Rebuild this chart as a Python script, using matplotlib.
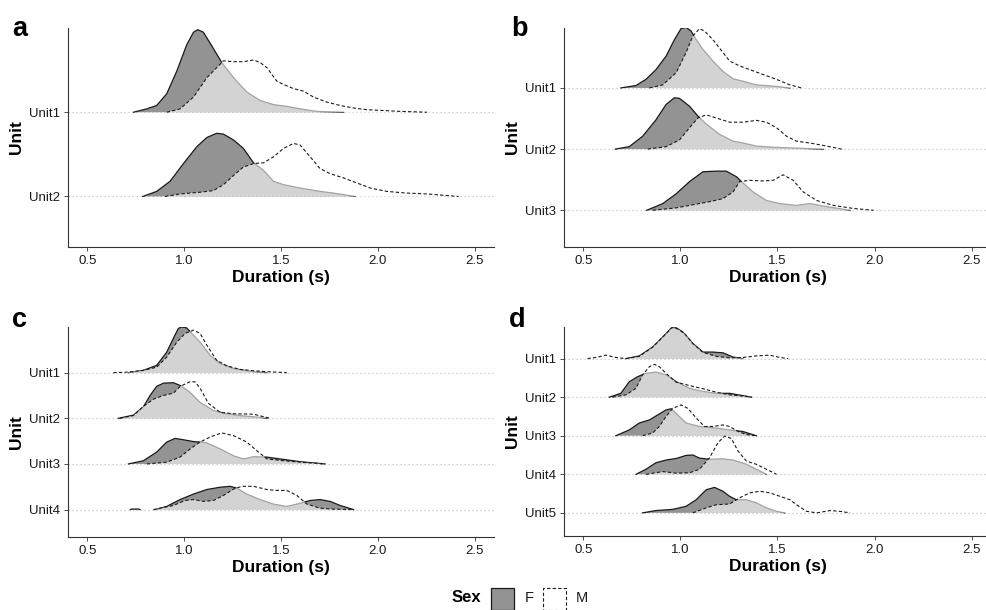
import matplotlib
matplotlib.use("Agg")
import matplotlib.pyplot as plt
import numpy as np
from matplotlib.patches import Rectangle

plt.rcParams['font.family'] = ['Liberation Sans', 'DejaVu Sans']

nan = np.nan

# ---- panel a ----
a_units = ['Unit1', 'Unit2']
a1_f = [(0.738, 0.0), (0.807, 0.04), (0.858, 0.08), (0.910, 0.22), (0.962, 0.49), (1.013, 0.80),
        (1.048, 0.95), (1.070, 0.98), (1.099, 0.95), (1.134, 0.82), (1.168, 0.69), (1.194, 0.59),
        (1.255, 0.41), (1.323, 0.24), (1.392, 0.14), (1.461, 0.09), (1.530, 0.07), (1.599, 0.04),
        (1.685, 0.01), (1.823, 0.0)]
a1_m = [(0.910, 0.0), (0.979, 0.04), (1.048, 0.18), (1.117, 0.41), (1.168, 0.53), (1.203, 0.61),
        (1.255, 0.60), (1.306, 0.60), (1.358, 0.62), (1.392, 0.59), (1.427, 0.53), (1.478, 0.37),
        (1.513, 0.33), (1.565, 0.28), (1.616, 0.25), (1.668, 0.18), (1.737, 0.12), (1.806, 0.08),
        (1.875, 0.05), (1.944, 0.03), (2.030, 0.02), (2.116, 0.01), (2.254, 0.0)]
a2_f = [(0.786, 0.0), (0.858, 0.06), (0.927, 0.18), (0.996, 0.39), (1.065, 0.59), (1.117, 0.70),
        (1.168, 0.75), (1.203, 0.74), (1.255, 0.67), (1.306, 0.57), (1.358, 0.40), (1.410, 0.31),
        (1.461, 0.18), (1.513, 0.14), (1.599, 0.10), (1.702, 0.06), (1.771, 0.04), (1.883, 0.0)]
a2_m = [(0.901, 0.0), (0.979, 0.03), (1.082, 0.05), (1.151, 0.07), (1.203, 0.14), (1.255, 0.25),
        (1.306, 0.35), (1.358, 0.39), (1.410, 0.40), (1.461, 0.47), (1.513, 0.57), (1.565, 0.63),
        (1.599, 0.61), (1.651, 0.47), (1.702, 0.33), (1.754, 0.27), (1.823, 0.22), (1.892, 0.16),
        (1.961, 0.10), (2.047, 0.06), (2.150, 0.04), (2.254, 0.03), (2.417, 0.0)]

# ---- panel b ----
b_units = ['Unit1', 'Unit2', 'Unit3']
b1_f = [(0.693, 0.0), (0.771, 0.04), (0.822, 0.14), (0.874, 0.30), (0.926, 0.52), (0.969, 0.79),
        (1.003, 0.97), (1.029, 0.99), (1.055, 0.93), (1.081, 0.79), (1.116, 0.63), (1.167, 0.44),
        (1.219, 0.27), (1.271, 0.15), (1.322, 0.11), (1.391, 0.05), (1.478, 0.03), (1.564, 0.0)]
b1_m = [(0.840, 0.0), (0.909, 0.05), (0.978, 0.25), (1.029, 0.58), (1.064, 0.85), (1.098, 0.97),
        (1.124, 0.93), (1.167, 0.79), (1.219, 0.58), (1.253, 0.44), (1.305, 0.36), (1.374, 0.28),
        (1.443, 0.20), (1.495, 0.14), (1.564, 0.05), (1.624, 0.0)]
b2_f = [(0.664, 0.0), (0.736, 0.04), (0.805, 0.21), (0.874, 0.48), (0.926, 0.73), (0.969, 0.84),
        (0.995, 0.83), (1.047, 0.70), (1.090, 0.54), (1.133, 0.41), (1.202, 0.24), (1.271, 0.13),
        (1.322, 0.10), (1.391, 0.05), (1.478, 0.03), (1.564, 0.02), (1.736, 0.0)]
b2_m = [(0.831, 0.0), (0.926, 0.04), (0.995, 0.15), (1.047, 0.35), (1.090, 0.51), (1.133, 0.56),
        (1.184, 0.51), (1.253, 0.44), (1.322, 0.44), (1.391, 0.47), (1.443, 0.44), (1.495, 0.35),
        (1.547, 0.21), (1.598, 0.13), (1.667, 0.10), (1.736, 0.06), (1.831, 0.0)]
b3_f = [(0.826, 0.0), (0.909, 0.11), (0.978, 0.27), (1.047, 0.47), (1.116, 0.63), (1.184, 0.64),
        (1.236, 0.64), (1.288, 0.55), (1.314, 0.47), (1.374, 0.30), (1.443, 0.16), (1.512, 0.11),
        (1.598, 0.08), (1.667, 0.11), (1.736, 0.07), (1.874, 0.0)]
b3_m = [(0.857, 0.0), (0.978, 0.04), (1.081, 0.10), (1.150, 0.14), (1.219, 0.19), (1.271, 0.30),
        (1.305, 0.47), (1.357, 0.49), (1.426, 0.48), (1.478, 0.49), (1.529, 0.58), (1.581, 0.49),
        (1.633, 0.30), (1.702, 0.16), (1.788, 0.08), (1.891, 0.03), (1.995, 0.0)]

# ---- panel c ----
c_units = ['Unit1', 'Unit2', 'Unit3', 'Unit4']
c1_f = [(0.712, 0.0), (0.789, 0.05), (0.858, 0.16), (0.910, 0.45), (0.944, 0.75), (0.970, 0.97),
        (0.988, 1.0), (1.013, 0.98), (1.039, 0.86), (1.082, 0.67), (1.134, 0.38), (1.186, 0.20),
        (1.254, 0.09), (1.341, 0.03), (1.427, 0.0)]
c1_m = [(0.634, 0.0), (0.703, 0.01), (0.789, 0.05), (0.858, 0.12), (0.910, 0.34), (0.962, 0.67),
        (1.005, 0.86), (1.048, 0.93), (1.082, 0.86), (1.117, 0.60), (1.168, 0.27), (1.220, 0.15),
        (1.289, 0.07), (1.392, 0.03), (1.530, 0.0)]
c2_f = [(0.660, 0.0), (0.738, 0.07), (0.789, 0.25), (0.824, 0.50), (0.858, 0.70), (0.893, 0.77),
        (0.944, 0.78), (0.979, 0.72), (1.030, 0.57), (1.082, 0.35), (1.151, 0.17), (1.220, 0.10),
        (1.289, 0.06), (1.392, 0.02), (1.427, 0.0)]
c2_m = [(0.669, 0.0), (0.738, 0.06), (0.789, 0.26), (0.841, 0.42), (0.893, 0.50), (0.944, 0.55),
        (0.979, 0.70), (1.030, 0.80), (1.056, 0.80), (1.082, 0.66), (1.125, 0.33), (1.186, 0.13),
        (1.254, 0.10), (1.358, 0.09), (1.444, 0.0)]
c3_f = [(0.712, 0.0), (0.789, 0.07), (0.858, 0.26), (0.910, 0.48), (0.953, 0.56), (0.996, 0.53),
        (1.048, 0.49), (1.082, 0.48), (1.117, 0.46), (1.186, 0.33), (1.254, 0.18), (1.306, 0.11),
        (1.358, 0.16), (1.427, 0.15), (1.513, 0.10), (1.599, 0.05), (1.728, 0.0)]
c3_m = [(0.807, 0.0), (0.910, 0.04), (0.979, 0.15), (1.031, 0.33), (1.082, 0.48), (1.134, 0.59),
        (1.194, 0.68), (1.255, 0.62), (1.323, 0.48), (1.375, 0.29), (1.427, 0.11), (1.513, 0.07),
        (1.599, 0.04), (1.728, 0.0)]
c4_f = [(0.722, 0.0), (0.730, 0.012), (0.765, 0.012), (0.772, 0.0), (0.780, nan),
        (0.850, 0.0), (0.910, 0.07), (0.979, 0.22), (1.048, 0.34), (1.117, 0.44), (1.186, 0.49),
        (1.237, 0.51), (1.272, 0.47), (1.323, 0.34), (1.392, 0.22), (1.461, 0.12), (1.530, 0.07),
        (1.582, 0.12), (1.651, 0.20), (1.702, 0.22), (1.754, 0.18), (1.806, 0.09), (1.875, 0.0)]
c4_m = [(0.841, 0.0), (0.944, 0.09), (1.005, 0.20), (1.048, 0.22), (1.099, 0.18), (1.151, 0.20),
        (1.203, 0.31), (1.255, 0.45), (1.298, 0.51), (1.358, 0.51), (1.427, 0.44), (1.478, 0.42),
        (1.530, 0.42), (1.582, 0.31), (1.634, 0.12), (1.702, 0.03), (1.771, 0.01), (1.875, 0.0)]

# ---- panel d ----
d_units = ['Unit1', 'Unit2', 'Unit3', 'Unit4', 'Unit5']
d1_f = [(0.719, 0.0), (0.788, 0.07), (0.857, 0.30), (0.909, 0.56), (0.952, 0.79), (0.978, 0.80),
        (1.012, 0.69), (1.064, 0.39), (1.116, 0.17), (1.167, 0.17), (1.219, 0.15), (1.271, 0.04),
        (1.322, 0.0)]
d1_m = [(0.521, 0.0), (0.564, 0.03), (0.616, 0.09), (0.667, 0.03), (0.719, 0.0), (0.788, 0.06),
        (0.857, 0.30), (0.909, 0.56), (0.957, 0.81), (0.986, 0.77), (1.021, 0.65), (1.064, 0.39),
        (1.116, 0.16), (1.184, 0.06), (1.253, 0.02), (1.322, 0.03), (1.391, 0.07), (1.460, 0.09),
        (1.512, 0.03), (1.555, 0.0)]
d2_f = [(0.633, 0.0), (0.693, 0.10), (0.736, 0.40), (0.779, 0.53), (0.822, 0.62), (0.874, 0.65),
        (0.926, 0.58), (0.978, 0.40), (1.047, 0.23), (1.116, 0.15), (1.184, 0.10), (1.253, 0.10),
        (1.322, 0.04), (1.366, 0.0)]
d2_m = [(0.650, 0.0), (0.719, 0.06), (0.771, 0.23), (0.805, 0.58), (0.840, 0.79), (0.866, 0.85),
        (0.891, 0.79), (0.934, 0.58), (0.978, 0.39), (1.047, 0.30), (1.116, 0.22), (1.184, 0.13),
        (1.253, 0.06), (1.322, 0.03), (1.366, 0.0)]
d3_f = [(0.667, 0.0), (0.736, 0.15), (0.788, 0.33), (0.840, 0.41), (0.883, 0.54), (0.926, 0.67),
        (0.952, 0.70), (0.978, 0.58), (1.029, 0.33), (1.098, 0.24), (1.184, 0.20), (1.253, 0.15),
        (1.322, 0.11), (1.391, 0.0)]
d3_m = [(0.805, 0.0), (0.857, 0.07), (0.891, 0.24), (0.926, 0.50), (0.960, 0.71), (1.003, 0.80),
        (1.038, 0.71), (1.081, 0.46), (1.124, 0.24), (1.167, 0.24), (1.219, 0.28), (1.253, 0.24),
        (1.297, 0.11), (1.340, 0.03), (1.391, 0.0)]
d4_f = [(0.771, 0.0), (0.822, 0.13), (0.874, 0.30), (0.926, 0.37), (0.978, 0.41), (1.029, 0.49),
        (1.064, 0.50), (1.098, 0.42), (1.150, 0.39), (1.219, 0.40), (1.271, 0.37), (1.340, 0.26),
        (1.391, 0.13), (1.443, 0.0)]
d4_m = [(0.822, 0.0), (0.909, 0.07), (0.978, 0.03), (1.047, 0.04), (1.098, 0.13), (1.150, 0.43),
        (1.193, 0.82), (1.228, 0.99), (1.262, 0.93), (1.297, 0.60), (1.340, 0.34), (1.391, 0.26),
        (1.443, 0.13), (1.495, 0.0)]
d5_f = [(0.805, 0.0), (0.874, 0.06), (0.960, 0.09), (1.029, 0.17), (1.081, 0.34), (1.133, 0.60),
        (1.176, 0.66), (1.219, 0.56), (1.253, 0.43), (1.288, 0.34), (1.340, 0.34), (1.391, 0.26),
        (1.443, 0.13), (1.495, 0.04), (1.538, 0.0)]
d5_m = [(1.064, 0.0), (1.133, 0.13), (1.184, 0.21), (1.253, 0.23), (1.305, 0.39), (1.357, 0.52),
        (1.409, 0.56), (1.460, 0.52), (1.512, 0.43), (1.564, 0.34), (1.598, 0.21), (1.650, 0.04),
        (1.702, 0.0), (1.771, 0.06), (1.822, 0.04), (1.874, 0.0)]

x_ticks = [0.5, 1.0, 1.5, 2.0, 2.5]
x_ticklabels = ['0.5', '1.0', '1.5', '2.0', '2.5']

F_FILL = '#666666'
F_ALPHA = 0.7
LINE = '#1a1a1a'
AX_COL = '#333333'

W, H = 987, 610
fig = plt.figure(figsize=(W / 100, H / 100), dpi=100)


def px_rect(left, top, right, bottom):
    return [left / W, 1 - bottom / H, (right - left) / W, (bottom - top) / H]


def ridges(ax, units, f_list, m_list, ytop):
    n = len(units)
    bases = [n - 1 - i for i in range(n)]
    for b in bases:
        ax.axhline(b, color='#c4c4c4', lw=0.9, ls=(0, (1, 2.2)), zorder=0)
    for i, (f, m) in enumerate(zip(f_list, m_list)):
        b = bases[i]
        z = 2 + 4 * i
        fx, fh = np.array(f, dtype=float).T
        ax.fill_between(fx, b, b + fh, facecolor=F_FILL, alpha=F_ALPHA, lw=0, zorder=z)
        ax.plot(fx, b + fh, color=LINE, lw=0.9, zorder=z + 1)
        mx, mh = np.array(m, dtype=float).T
        ax.fill_between(mx, b, b + mh, facecolor='white', alpha=0.6, lw=0, zorder=z + 2)
        ax.plot(mx, b + mh, color=LINE, lw=0.8, ls=(0, (3, 2)), zorder=z + 3)

    ax.set_xlim(0.4, 2.6)
    ax.set_ylim(-0.6, ytop)
    ax.set_yticks(bases)
    ax.set_yticklabels(units)
    ax.set_xticks(x_ticks)
    ax.set_xticklabels(x_ticklabels)
    for s in ['top', 'right']:
        ax.spines[s].set_visible(False)
    for s in ['left', 'bottom']:
        ax.spines[s].set_color(AX_COL)
        ax.spines[s].set_linewidth(0.8)
    ax.tick_params(axis='both', length=3, width=0.6, color=AX_COL, labelcolor='#1a1a1a',
                   labelsize=9.5, pad=2.5)
    ax.set_xlabel('Duration (s)', fontsize=12.5, fontweight='bold', labelpad=2.5)
    ax.set_ylabel('Unit', fontsize=12.5, fontweight='bold', labelpad=4)


ax_a = fig.add_axes(px_rect(68, 28, 494, 247))
ridges(ax_a, a_units, [a1_f, a2_f], [a1_m, a2_m], 2.0)

ax_b = fig.add_axes(px_rect(564, 28, 991, 247))
ridges(ax_b, b_units, [b1_f, b2_f, b3_f], [b1_m, b2_m, b3_m], 2.98)

ax_c = fig.add_axes(px_rect(68, 327, 494, 537))
ridges(ax_c, c_units, [c1_f, c2_f, c3_f, c4_f], [c1_m, c2_m, c3_m, c4_m], 4.0)

ax_d = fig.add_axes(px_rect(564, 327, 991, 536))
ridges(ax_d, d_units, [d1_f, d2_f, d3_f, d4_f, d5_f], [d1_m, d2_m, d3_m, d4_m, d5_m], 4.82)

# panel letters
for letter, x, y in [('a', 12, 36), ('b', 511, 36), ('c', 12, 327), ('d', 509, 327)]:
    fig.text(x / W, 1 - y / H, letter, fontsize=19.5, fontweight='bold', va='baseline', ha='left')

# legend
ly = 598
fig.text(481 / W, 1 - ly / H, 'Sex', fontsize=12, fontweight='bold', ha='right', va='center')
fig.patches.append(Rectangle((491 / W, 1 - 610 / H), 23 / W, 22 / H, transform=fig.transFigure,
                             facecolor=F_FILL, alpha=F_ALPHA, edgecolor='none'))
fig.patches.append(Rectangle((491 / W, 1 - 610 / H), 23 / W, 22 / H, transform=fig.transFigure,
                             facecolor='none', edgecolor=LINE, lw=0.9))
fig.text(525 / W, 1 - ly / H, 'F', fontsize=10.5, ha='left', va='center', color='#1a1a1a')
fig.patches.append(Rectangle((543 / W, 1 - 610 / H), 23 / W, 22 / H, transform=fig.transFigure,
                             facecolor='white', edgecolor=LINE, lw=0.8, ls=(0, (3, 2))))
fig.text(576 / W, 1 - ly / H, 'M', fontsize=10.5, ha='left', va='center', color='#1a1a1a')

fig.savefig('out.png', dpi=100)
